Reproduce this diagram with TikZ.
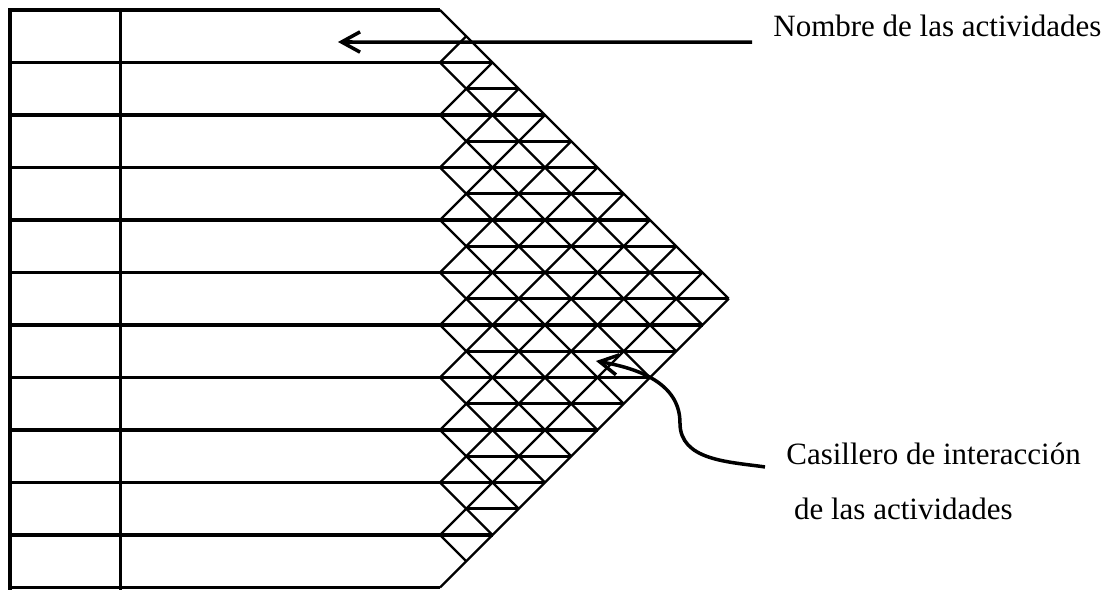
\documentclass[tikz,border=0pt]{standalone}
\usepackage{fontspec}
\setmainfont{Liberation Serif}
\usetikzlibrary{arrows.meta}

\tikzset{
  fila/.style={line width=1.7pt},
  rombo/.style={line width=1.25pt},
  flecha/.style={line width=1.9pt, -{Straight Barb[length=10pt, width=11pt]}},
  rotulo/.style={font=\fontsize{16.8}{29.8}\selectfont, anchor=base west,
    inner xsep=0.4cm, inner ysep=0pt, align=left},
}

\begin{document}
\begin{tikzpicture}
  \useasboundingbox (-8.381,-0.029) rectangle (12.914,11.19);
  % borde de la tabla y columna de numeros
  \draw[fila] (0,11) -- (-8.19,11) -- (-8.19,-0.2);
  \draw[fila] (-6.08,11) -- (-6.08,-0.2);
  % filas de actividades
  \foreach \k in {0,...,10}{
    \pgfmathsetmacro\fin{min(\k,11-\k)}
    \draw[fila] (-8.19,\k) -- (\fin,\k);
  }
  % medias filas de la matriz
  \foreach \k in {1,...,9}{
    \pgfmathsetmacro\fin{min(\k,10-\k)+0.5}
    \draw[fila] (0.5,\k+0.5) -- (\fin,\k+0.5);
  }
  % diagonales de la matriz
  \foreach \k in {0,...,11}{
    \draw[rombo] (0,\k) -- ({\k/2},{\k/2});
    \draw[rombo] (0,\k) -- ({(11-\k)/2},{(11+\k)/2});
  }
  % rotulos (base = ultima linea)
  \node[rotulo] (nombre) at (5.943,10.486) {Nombre de las actividades};
  \node[rotulo] (casillero) at (6.19,1.286) {Casillero de interacción\\\hspace*{0.25em}de las actividades};
  \coordinate (nombrecol) at (-1.943,10.39);
  \coordinate (codo) at (4.571,3.133);
  \coordinate (celda) at (2.971,4.314);
  \draw[flecha] ([yshift=-0.1cm]nombre.base west) -- (nombrecol);
  \draw[flecha] ([yshift=1.01cm]casillero.base west) to[out=172,in=-90] (codo)
    to[out=90,in=-10] (celda);
\end{tikzpicture}
\end{document}
